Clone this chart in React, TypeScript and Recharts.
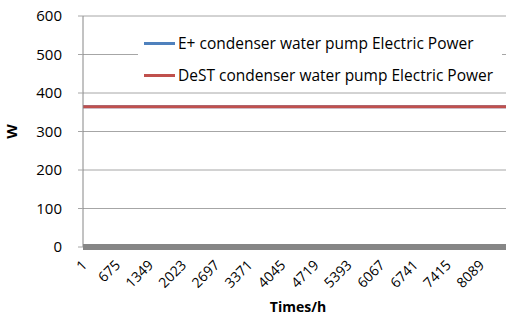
import React from 'react';
import { LineChart, Line, XAxis, YAxis, CartesianGrid } from 'recharts';

const hours = [1, 675, 1349, 2023, 2697, 3371, 4045, 4719, 5393, 6067, 6741, 7415, 8089, 8760];
const tickHours = [1, 675, 1349, 2023, 2697, 3371, 4045, 4719, 5393, 6067, 6741, 7415, 8089];
const ePlusPower = [364, 364, 364, 364, 364, 364, 364, 364, 364, 364, 364, 364, 364, 364];
const destPower = [364, 364, 364, 364, 364, 364, 364, 364, 364, 364, 364, 364, 364, 364];
const yTicks = [0, 100, 200, 300, 400, 500, 600];

const seriesNames = ['E+ condenser water pump Electric Power', 'DeST condenser water pump Electric Power'];
const seriesColors = ['#4F81BD', '#C0504D'];

const data = hours.map((h, i) => ({ hour: h, eplus: ePlusPower[i], dest: destPower[i] }));

const FONT = '"Open Sans", sans-serif';

const XTick = (props: any) => {
  const { x, y, payload } = props;
  const ax = x + 5;
  const ay = y + 11;
  return (
    <text
      x={ax}
      y={ay}
      textAnchor="end"
      fontSize={14}
      fontFamily={FONT}
      fill="#000"
      transform={`rotate(-45, ${ax}, ${ay})`}
    >
      {payload.value}
    </text>
  );
};

export default function App() {
  return (
    <div style={{ position: 'absolute', left: 0, top: 0, width: 506, height: 316, overflow: 'hidden', background: '#fff' }}>
      <LineChart width={520} height={316} data={data} margin={{ top: 16, right: 7, left: 0, bottom: 0 }}>
        <CartesianGrid vertical={false} stroke="#a6a6a6" />
        <XAxis
          dataKey="hour"
          type="number"
          domain={[1, 8760]}
          ticks={tickHours}
          interval={0}
          tick={<XTick />}
          tickLine={false}
          axisLine={{ stroke: '#868686', strokeWidth: 6 }}
          height={69}
          label={{ value: 'Times/h', position: 'insideBottom', offset: 4, style: { fontFamily: FONT, fontSize: 14, fontWeight: 'bold', fill: '#000' } }}
        />
        <YAxis
          domain={[0, 600]}
          ticks={yTicks}
          width={83}
          tickSize={5}
          tickMargin={16}
          tickLine={{ stroke: '#a6a6a6' }}
          axisLine={{ stroke: '#868686' }}
          tick={{ fontFamily: FONT, fontSize: 15, fill: '#000' }}
          label={{ value: 'W', angle: -90, position: 'insideLeft', offset: 12, style: { fontFamily: FONT, fontSize: 15, fontWeight: 'bold', fill: '#000', textAnchor: 'middle' } }}
        />
        <Line type="linear" dataKey="eplus" name={seriesNames[0]} stroke={seriesColors[0]} strokeWidth={3} dot={false} isAnimationActive={false} />
        <Line type="linear" dataKey="dest" name={seriesNames[1]} stroke={seriesColors[1]} strokeWidth={3} dot={false} isAnimationActive={false} />
      </LineChart>
      <div style={{ position: 'absolute', left: 138, top: 27, width: 364, height: 60, background: '#fff', fontFamily: FONT, fontSize: 15.5, color: '#000' }}>
        {seriesNames.map((name, i) => (
          <div key={name} style={{ position: 'absolute', left: 6, top: 4 + i * 32, display: 'flex', alignItems: 'center', height: 24 }}>
            <span style={{ display: 'inline-block', width: 31, height: 3, background: seriesColors[i], marginRight: 3 }} />
            <span style={{ whiteSpace: 'nowrap' }}>{name}</span>
          </div>
        ))}
      </div>
    </div>
  );
}
